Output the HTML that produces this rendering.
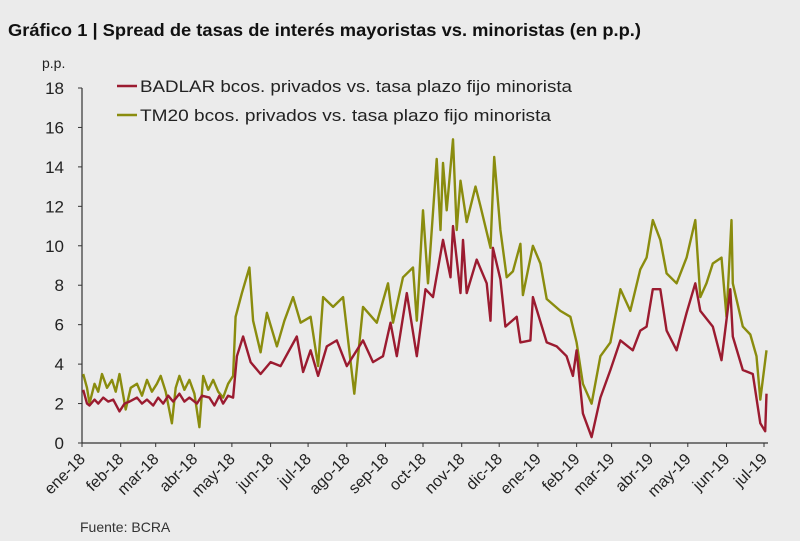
<!DOCTYPE html>
<html><head><meta charset="utf-8"><style>
body{margin:0;background:#ebebeb;}
svg{display:block;font-family:"Liberation Sans",sans-serif;}
</style></head><body>
<svg id="chart" width="800" height="541" viewBox="0 0 800 541">
<rect width="800" height="541" fill="#ebebeb"/>
<text x="8" y="36" font-size="17.5" font-weight="bold" fill="#111" textLength="633" lengthAdjust="spacingAndGlyphs">Gráfico 1 | Spread de tasas de interés mayoristas vs. minoristas (en p.p.)</text>
<text x="42" y="68" font-size="14" fill="#222">p.p.</text>
<g id="legend">
<line x1="117" y1="86" x2="137" y2="86" stroke="#9b1b30" stroke-width="2.5"/>
<text x="140" y="92" font-size="17" fill="#222" textLength="432" lengthAdjust="spacingAndGlyphs">BADLAR bcos. privados vs. tasa plazo fijo minorista</text>
<line x1="117" y1="115" x2="137" y2="115" stroke="#8a8c0e" stroke-width="2.5"/>
<text x="140" y="121" font-size="17" fill="#222" textLength="411" lengthAdjust="spacingAndGlyphs">TM20 bcos. privados vs. tasa plazo fijo minorista</text>
</g>
<g id="axes"></g>
<g id="series"></g>
<text x="80" y="532" font-size="14" fill="#333">Fuente: BCRA</text>
</svg>
<script>
const monthLabels=["ene-18","feb-18","mar-18","abr-18","may-18","jun-18","jul-18","ago-18","sep-18","oct-18","nov-18","dic-18","ene-19","feb-19","mar-19","abr-19","may-19","jun-19","jul-19"];
const monthStartDays=[0,31,59,90,120,151,181,212,243,273,304,334,365,396,424,455,485,516,546];
const yTicks=[0,2,4,6,8,10,12,14,16,18];
const redDays=[1,4,6,10,13,17,21,25,30,34,38,44,48,52,57,61,65,69,73,78,82,86,92,96,102,106,110,113,117,121,124,129,135,143,151,159,172,177,183,189,196,204,212,220,225,233,241,247,252,260,268,275,281,289,295,297,303,305,308,316,324,327,329,335,339,348,351,359,361,372,380,388,393,396,401,408,415,423,431,441,447,452,457,463,468,476,484,491,495,505,512,519,521,529,537,543,547,548];
const redVals=[2.7,2.0,1.9,2.2,2.0,2.3,2.1,2.2,1.6,2.0,2.1,2.3,2.0,2.2,1.9,2.3,2.0,2.4,2.1,2.5,2.1,2.3,2.0,2.4,2.3,1.9,2.4,2.0,2.4,2.3,4.4,5.4,4.1,3.5,4.1,3.9,5.4,3.6,4.7,3.4,4.9,5.2,3.9,4.7,5.2,4.1,4.4,6.1,4.4,7.6,4.4,7.8,7.4,10.3,8.4,11,7.6,10.3,7.6,9.3,8.1,6.2,9.9,8.3,5.9,6.4,5.1,5.2,7.4,5.1,4.9,4.4,3.4,4.7,1.5,0.3,2.3,3.7,5.2,4.7,5.7,5.9,7.8,7.8,5.7,4.7,6.6,8.1,6.7,5.9,4.2,7.8,5.4,3.7,3.5,1.0,0.6,2.5];
const greenDays=[1,4,6,10,13,16,20,24,27,30,35,39,44,48,52,56,60,63,67,72,75,78,82,86,90,94,97,101,105,109,113,117,121,123,128,134,137,143,148,156,162,169,175,183,189,193,201,209,218,225,236,245,249,257,265,268,273,277,281,284,287,289,292,297,300,303,308,315,319,327,330,335,340,345,351,353,361,367,372,383,391,396,401,408,415,423,431,439,447,452,457,463,468,476,484,491,495,500,505,512,516,520,521,529,535,540,543,548];
const greenVals=[3.5,2.8,2.0,3.0,2.6,3.5,2.8,3.2,2.6,3.5,1.7,2.8,3.0,2.4,3.2,2.6,3.0,3.4,2.6,1.0,2.8,3.4,2.7,3.2,2.5,0.8,3.4,2.7,3.2,2.6,2.3,3.0,3.4,6.4,7.6,8.9,6.2,4.6,6.6,4.9,6.2,7.4,6.1,6.4,3.9,7.4,6.9,7.4,2.5,6.9,6.1,8.1,6.1,8.4,8.9,6.2,11.8,8.1,11.7,14.4,10.8,14.2,11.8,15.4,10.8,13.3,11.2,13,12,9.9,14.5,10.8,8.4,8.7,10.1,7.5,10.0,9.1,7.3,6.7,6.4,5.1,3.0,2.0,4.4,5.1,7.8,6.7,8.8,9.4,11.3,10.3,8.6,8.1,9.4,11.3,7.4,8.1,9.1,9.4,6.4,11.3,8.1,5.9,5.5,4.4,2.2,4.7];

const NS="http://www.w3.org/2000/svg";
const X0=82,X1=764,Y0=443,Y1=88;
function xScale(d){return X0+d*(X1-X0)/546;}
function yScale(v){return Y0-v*(Y0-Y1)/18;}
function mk(tag,attrs,parent){const e=document.createElementNS(NS,tag);for(const k in attrs)e.setAttribute(k,attrs[k]);parent.appendChild(e);return e;}
const axes=document.getElementById('axes');
const yAxis=mk('line',{x1:X0,y1:Y1,x2:X0,y2:Y0,stroke:'#333','stroke-width':1.2},axes);


const xAxis=mk('line',{x1:X0,y1:Y0,x2:768,y2:Y0,stroke:'#333','stroke-width':1.2},axes);


yTicks.forEach(v=>{
  const t=mk('line',{x1:X0-4,y1:yScale(v),x2:X0,y2:yScale(v),stroke:'#333'},axes);
  
  
  const l=mk('text',{x:64,y:yScale(v)+6,'font-size':17,'text-anchor':'end',fill:'#222'},axes);
  l.textContent=v;
  
  
});
monthLabels.forEach((m,i)=>{
  const x=xScale(monthStartDays[i]);
  const t=mk('line',{x1:x,y1:Y0,x2:x,y2:Y0+4,stroke:'#333'},axes);
  
  
  const l=mk('text',{x:x+4,y:Y0+17,'font-size':16,'text-anchor':'end',fill:'#222',transform:`rotate(-45 ${x+4} ${Y0+17})`},axes);
  l.textContent=m;
  
  
});
const series=document.getElementById('series');
function line(days,vals){
  return days.map((d,i)=>(i?'L':'M')+xScale(d).toFixed(1)+' '+yScale(vals[i]).toFixed(1)).join(' ');
}
const g=mk('path',{d:line(greenDays,greenVals),fill:'none',stroke:'#8a8c0e','stroke-width':2.4,'stroke-linejoin':'round'},series);


const r=mk('path',{d:line(redDays,redVals),fill:'none',stroke:'#9b1b30','stroke-width':2.4,'stroke-linejoin':'round'},series);


</script>
</body></html>
